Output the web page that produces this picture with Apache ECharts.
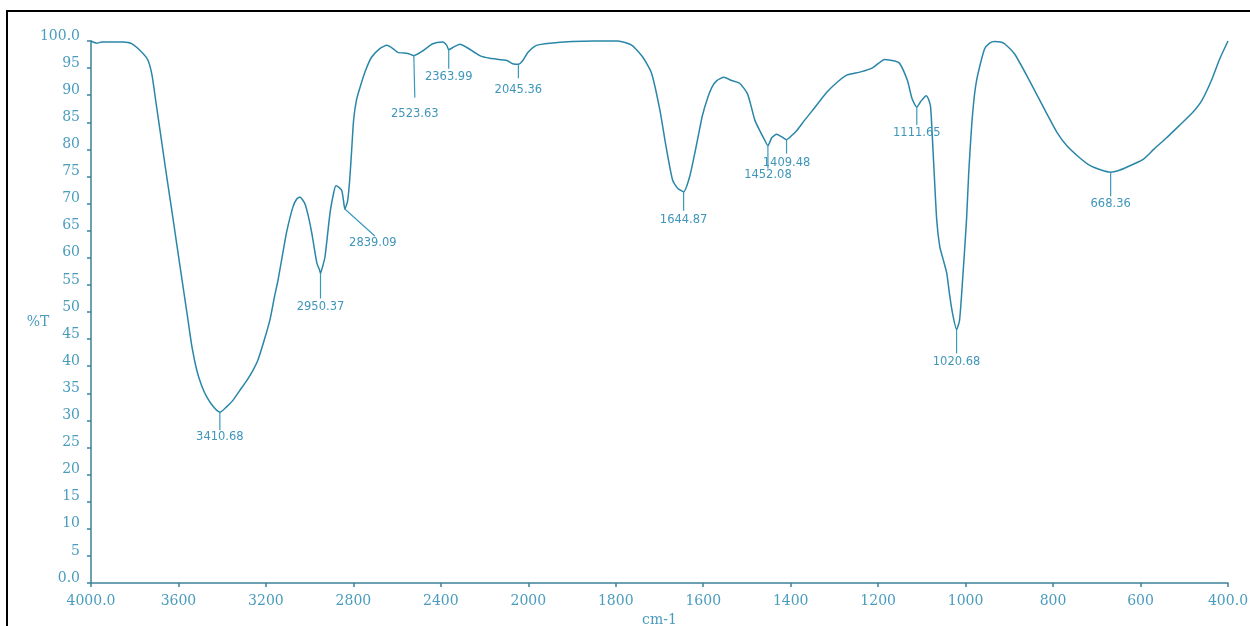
<!DOCTYPE html>
<html>
<head>
<meta charset="utf-8">
<script src="https://cdn.jsdelivr.net/npm/echarts@6/dist/echarts.min.js"></script>
<style>
html,body{margin:0;padding:0;background:#fff;}
#chart{width:1250px;height:626px;}
</style>
</head>
<body>
<div id="chart"></div>
<script>
// ---- data ----
const xTickLabels = ["4000.0","3600","3200","2800","2400","2000","1800","1600","1400","1200","1000","800","600","400.0"];

const wavenumber = [
  4000,3997,3974,3951,3900,3854,3814,3762,3739,3721,3703,3685,3671,3653,3630,3607,3584,3561,3538,3516,3493,3470,3440,3410.68,
  3380,3351,3320,3287,3260,3237,3210,3182,3160,3145,3120,3104,3077,3060,3045,3022,3005,2990,2967,2955,2950.37,2940,2930,2907,2890,2880,2866,2853,2845,2839.09,
  2826,2817,2808,2799,2786,2767,2744,2717,2679,2647,2619,2597,2551,2523.63,2482,2437,2391,2373,2363.99,2345,2313,2281,2222,2176,2098,2071,2045.36,2025,2002,1981,1950,1900,1850,1795,
  1763,1738,1718,1699,1685,1670,1658,1644.87,1631,1615,1602,1590,1580,1569,1553,1535,1517,1499,1488,1482,1471,1460,1452.08,1443,1432,1420,1409.48,1397,1386,1368,1350,1318,1295,1272,1240,1212,1185,1162,1151,1133,1123,1111.65,1103,1090,1085,1080,
  1073,1066,1059,1052,1043,1037,1030,1020.68,1014,1007,998,993,984,975,957,945,934,920,911,888,854,815,790,769,740,717,690,668.36,650,632,595,570,541,510,482,460,438,420,400];

const transmittance = [
  100,100,99.6,99.8,99.8,99.8,99.5,97.7,96.4,93.7,88.7,83.7,79.8,74.8,68.6,62.3,56,49.8,43.5,39.2,36.3,34.3,32.5,31.5,
  32.5,33.7,35.5,37.4,39.2,41.1,44.5,48.5,53,55.8,61.5,65,69.3,70.8,71.2,70,67.5,64.5,59,57.8,57.1,58.5,60.1,68.2,72,73.3,73,72.4,70.5,69,
  70.6,74.3,79.8,85.4,89.1,91.8,94.6,97,98.6,99.2,98.6,97.9,97.7,97.3,98.2,99.5,99.8,99.2,98.4,98.8,99.4,98.8,97.3,96.8,96.4,95.8,95.7,96.4,97.9,99.2,99.6,99.9,100,100,
  99.2,97,94,87.2,80.5,74.3,72.8,72.2,75,81,86.2,89.5,91.5,92.7,93.3,92.7,92.2,90.3,87.2,85.4,83.5,81.8,80.7,82.2,82.8,82.3,81.8,82.6,83.5,85.4,87.2,90.5,92.3,93.7,94.3,95.1,96.6,96.3,95.9,92.7,89.5,87.8,88.8,89.9,89.3,87.8,
  77.4,66.9,62,59.9,57.1,53.4,49.8,46.8,48.4,55.8,66.9,75.5,86.6,92.7,98.5,99.6,99.9,99.8,99.5,97.6,92.7,86.7,83,80.7,78.5,77.1,76.2,75.8,76.1,76.7,78.1,80,82.1,84.5,86.7,89,92.7,96.5,100];

const peakWavenumber = [3410.68,2950.37,2839.09,2523.63,2363.99,2045.36,1644.87,1452.08,1409.48,1111.65,1020.68,668.36];
const peakT = [31.5,57.1,69.0,97.3,98.4,95.7,72.2,80.7,81.8,87.8,46.8,75.8];
const peakLabels = ["3410.68","2950.37","2839.09","2523.63","2363.99","2045.36","1644.87","1452.08","1409.48","1111.65","1020.68","668.36"];

// ---- styles (leader line end dx,dy and label dx,dy in px) ----
const peakLeader = [
  [0,18,0,25],[0,25,0,33],[30,27,28,34],[1,42,1,58],[0,19,0,27],[0,14,0,26],
  [0,19,0,28],[0,23,0,29],[0,14,0,23],[0,18,0,26],[0,24,0,33],[0,24,0,32]
];

// piecewise FTIR axis: 4000-2000 at 400/unit, 2000-400 at 200/unit
function toUnit(w){ return w >= 2000 ? (4000 - w) / 400 : 5 + (2000 - w) / 200; }

const curveColor = '#2a86a8';
const axisColor = '#3b8299';
const labelColor = '#4a9cbe';
const serif = '"DejaVu Serif", serif';
const sans = '"DejaVu Sans", sans-serif';

const spectrum = wavenumber.map((w,i)=>[toUnit(w), transmittance[i]]);
const peaks = peakWavenumber.map((w,i)=>[toUnit(w), peakT[i], i]);

const chart = echarts.init(document.getElementById('chart'), null, {renderer:'canvas'});
chart.setOption({
  animation:false,
  backgroundColor:'#fff',
  grid:{left:91,right:22,top:41,bottom:43,containLabel:false,outerBoundsMode:'none'},
  xAxis:{
    type:'value',min:0,max:13,interval:1,
    name:'cm-1',nameLocation:'middle',nameGap:29,
    nameTextStyle:{color:labelColor,fontFamily:serif,fontSize:14},
    axisLine:{lineStyle:{color:axisColor,width:1.5}},
    axisTick:{show:true,length:4,lineStyle:{color:axisColor,width:1.5}},
    axisLabel:{color:labelColor,fontFamily:serif,fontSize:14,margin:11,
      formatter:function(v){ return xTickLabels[Math.round(v)]; }},
    splitLine:{show:false}
  },
  yAxis:{
    type:'value',min:0,max:100,interval:5,
    axisLine:{show:true,lineStyle:{color:axisColor,width:1.5}},
    axisTick:{show:true,length:4,lineStyle:{color:axisColor,width:1.5}},
    axisLabel:{color:labelColor,fontFamily:serif,fontSize:14,margin:11,verticalAlign:'bottom',lineHeight:10,
      formatter:function(v){ return (v===0||v===100) ? v.toFixed(1) : String(v); }},
    splitLine:{show:false}
  },
  graphic:[
    {type:'rect',shape:{x:7,y:11,width:1400,height:800},style:{fill:'none',stroke:'#000',lineWidth:2},silent:true,z:100},
    {type:'text',x:38,y:322,style:{text:'%T',fill:labelColor,fontFamily:serif,fontSize:14,align:'center',verticalAlign:'middle'},silent:true}
  ],
  series:[
    {type:'line',data:spectrum,showSymbol:false,smooth:0.2,clip:false,
      lineStyle:{color:curveColor,width:1.5},z:3},
    {type:'custom',data:peaks,clip:false,z:4,
      renderItem:function(params,api){
        const i = params.dataIndex;
        const p = api.coord([api.value(0), api.value(1)]);
        const s = peakLeader[i];
        return {type:'group',children:[
          {type:'line',shape:{x1:p[0],y1:p[1],x2:p[0]+s[0],y2:p[1]+s[1]},style:{stroke:'#3a98bd',lineWidth:1.2}},
          {type:'text',x:p[0]+s[2],y:p[1]+s[3],style:{text:peakLabels[i],fill:'#3f96ba',fontFamily:sans,fontSize:11.5,align:'center',verticalAlign:'middle'}}
        ]};
      }}
  ]
});
</script>
</body>
</html>
